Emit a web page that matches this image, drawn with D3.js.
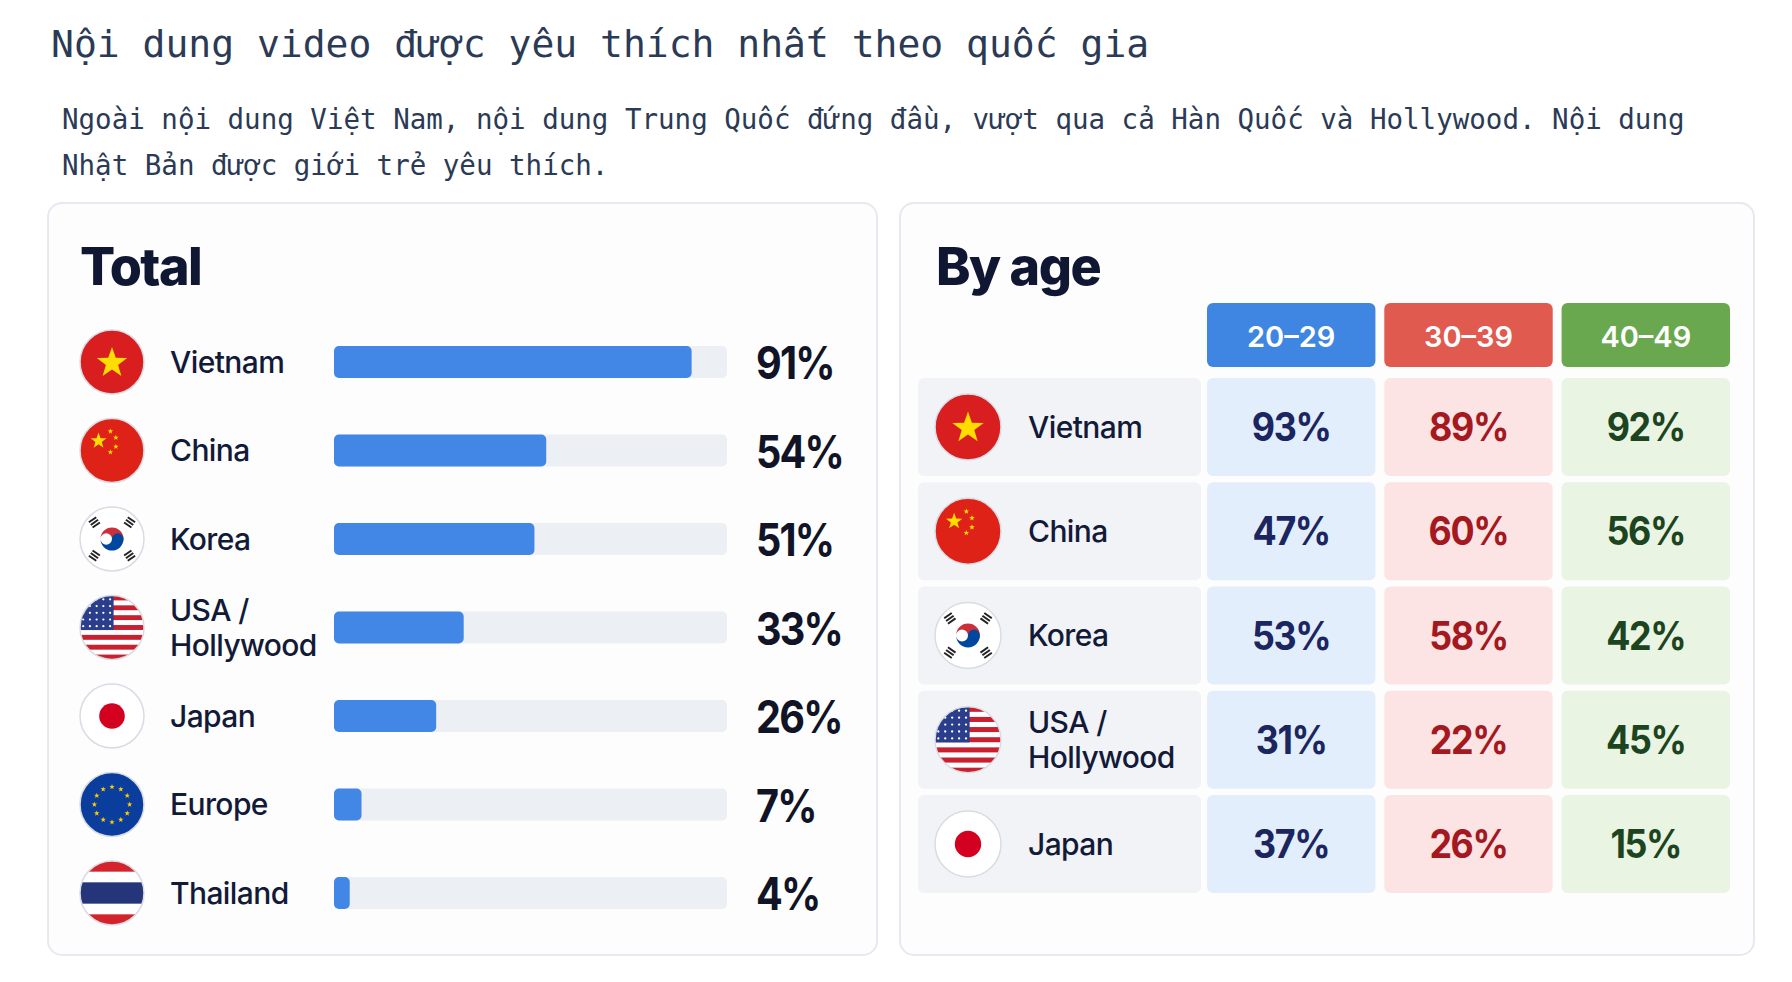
<!DOCTYPE html>
<html><head><meta charset="utf-8">
<script src="https://cdn.jsdelivr.net/npm/d3@7"></script>
<style>body{margin:0;background:#fff}svg{display:block}</style>
</head><body><svg id="chart"></svg>
<script>
const countries = ['Vietnam', 'China', 'Korea', 'USA / Hollywood', 'Japan', 'Europe', 'Thailand']
const totals = [91, 54, 51, 33, 26, 7, 4]
const ageGroups = ['20–29', '30–39', '40–49']
const ageCountries = ['Vietnam', 'China', 'Korea', 'USA / Hollywood', 'Japan']
const age2029 = [93, 47, 53, 31, 37]
const age3039 = [89, 60, 58, 22, 26]
const age4049 = [92, 56, 42, 45, 15]
const byAge = [age2029, age3039, age4049]

const W = 1792, H = 982
const svg = d3.select('#chart').attr('width', W).attr('height', H)
const defs = svg.append('defs')
const sans = 'Inter, Roboto, "Noto Sans", sans-serif'

svg.append('text').attr('x', 51).attr('y', 57).attr('font-family', '"DejaVu Sans Mono", monospace')
  .attr('font-size', 38).attr('fill', '#2b3a55').text('Nội dung video được yêu thích nhất theo quốc gia')
const sub = ['Ngoài nội dung Việt Nam, nội dung Trung Quốc đứng đầu, vượt qua cả Hàn Quốc và Hollywood. Nội dung',
  'Nhật Bản được giới trẻ yêu thích.']
sub.forEach((s, i) => svg.append('text').attr('x', 62).attr('y', 129 + i * 46)
  .attr('font-family', '"DejaVu Sans Mono", monospace').attr('font-size', 27.5).attr('fill', '#2b3a55').text(s))

// cards
;[[48, 877], [900, 1754]].forEach(([x0, x1]) => {
  svg.append('rect').attr('x', x0).attr('y', 203).attr('width', x1 - x0).attr('height', 752)
    .attr('rx', 14).attr('fill', '#fdfdfe').attr('stroke', '#e6e9ef').attr('stroke-width', 2)
})
svg.append('text').attr('x', 80).attr('y', 285).attr('font-family', sans).attr('font-weight', 800)
  .attr('font-size', 52).attr('letter-spacing', -1.5).attr('fill', '#0f1733').text('Total')
svg.append('text').attr('x', 936).attr('y', 285).attr('font-family', sans).attr('font-weight', 800)
  .attr('font-size', 52).attr('letter-spacing', -1.5).attr('fill', '#0f1733').text('By age')

let flagId = 0
function flag(g, name, cx, cy, r) {
  const id = 'fc' + (flagId++)
  defs.append('clipPath').attr('id', id).append('circle').attr('cx', cx).attr('cy', cy).attr('r', r)
  const f = g.append('g').attr('clip-path', `url(#${id})`)
  const star = (x, y, rr, col) => {
    const pts = d3.range(10).map(i => {
      const a = -Math.PI / 2 + i * Math.PI / 5, q = i % 2 ? rr * 0.4 : rr
      return [x + q * Math.cos(a), y + q * Math.sin(a)]
    })
    g.append('polygon').attr('points', pts.join(' ')).attr('fill', col)
  }
  if (name === 'Vietnam') {
    f.append('circle').attr('cx', cx).attr('cy', cy).attr('r', r).attr('fill', '#d81e1e')
    star(cx, cy + 1, r * 0.5, '#ffdd00')
  } else if (name === 'China') {
    f.append('circle').attr('cx', cx).attr('cy', cy).attr('r', r).attr('fill', '#de2218')
    star(cx - r * 0.42, cy - r * 0.3, r * 0.26, '#ffde00')
    ;[[-0.05, -0.6], [0.12, -0.4], [0.12, -0.12], [-0.05, 0.05]].forEach(([dx, dy]) =>
      star(cx + dx * r, cy + dy * r, r * 0.09, '#ffde00'))
  } else if (name === 'Korea') {
    f.append('circle').attr('cx', cx).attr('cy', cy).attr('r', r).attr('fill', '#fff')
    const rr = r * 0.36
    g.append('path').attr('d', `M${cx - rr},${cy} A${rr},${rr} 0 0 1 ${cx + rr},${cy} A${rr / 2},${rr / 2} 0 0 1 ${cx},${cy} A${rr / 2},${rr / 2} 0 0 0 ${cx - rr},${cy}Z`).attr('fill', '#cd2e3a')
    g.append('path').attr('d', `M${cx - rr},${cy} A${rr},${rr} 0 0 0 ${cx + rr},${cy} A${rr / 2},${rr / 2} 0 0 0 ${cx},${cy} A${rr / 2},${rr / 2} 0 0 1 ${cx - rr},${cy}Z`).attr('fill', '#0047a0')
    ;[[-1, -1], [1, -1], [-1, 1], [1, 1]].forEach(([sx, sy]) => {
      const x = cx + sx * r * 0.55, y = cy + sy * r * 0.52
      const gg = g.append('g').attr('transform', `translate(${x},${y}) rotate(${sx * sy * -35})`)
      d3.range(3).forEach(k => gg.append('rect').attr('x', -r * 0.14).attr('y', -r * 0.13 + k * r * 0.1)
        .attr('width', r * 0.28).attr('height', r * 0.06).attr('fill', '#222'))
    })
  } else if (name === 'USA / Hollywood') {
    d3.range(13).forEach(k => f.append('rect').attr('x', cx - r).attr('y', cy - r + k * 2 * r / 13)
      .attr('width', 2 * r).attr('height', 2 * r / 13 + 0.5).attr('fill', k % 2 ? '#fff' : '#c8202f'))
    f.append('rect').attr('x', cx - r).attr('y', cy - r).attr('width', r * 1.05).attr('height', r * 1.08).attr('fill', '#2a3e8c')
    d3.range(5).forEach(i => d3.range(5).forEach(j => f.append('circle')
      .attr('cx', cx - r + 0.1 * r + j * 0.21 * r).attr('cy', cy - r + 0.12 * r + i * 0.21 * r)
      .attr('r', r * 0.035).attr('fill', '#fff')))
  } else if (name === 'Japan') {
    f.append('circle').attr('cx', cx).attr('cy', cy).attr('r', r).attr('fill', '#fff')
    g.append('circle').attr('cx', cx).attr('cy', cy).attr('r', r * 0.4).attr('fill', '#d4001f')
  } else if (name === 'Europe') {
    f.append('circle').attr('cx', cx).attr('cy', cy).attr('r', r).attr('fill', '#0a3d9c')
    d3.range(12).forEach(k => {
      const a = k * Math.PI / 6
      star(cx + r * 0.55 * Math.cos(a), cy + r * 0.55 * Math.sin(a), r * 0.09, '#ffcc00')
    })
  } else if (name === 'Thailand') {
    const bands = [['#d3242c', 1], ['#fff', 1], ['#24357a', 2], ['#fff', 1], ['#d3242c', 1]]
    let y = cy - r
    bands.forEach(([c, n]) => {
      f.append('rect').attr('x', cx - r).attr('y', y).attr('width', 2 * r).attr('height', n * r / 3 + 0.5).attr('fill', c)
      y += n * r / 3
    })
  }
  g.append('circle').attr('cx', cx).attr('cy', cy).attr('r', r).attr('fill', 'none')
    .attr('stroke', '#d9dce3').attr('stroke-width', 1.5)
}

function label(g, name, x, y, size) {
  const parts = name.includes('/') ? ['USA /', 'Hollywood'] : [name]
  const t = g.append('text').attr('x', x).attr('font-family', sans).attr('font-weight', 500)
    .attr('font-size', size).attr('letter-spacing', -0.6).attr('fill', '#121a38')
  parts.forEach((p, i) => t.append('tspan').attr('x', x)
    .attr('y', y + size * 0.36 + (i - (parts.length - 1) / 2) * size * 1.15).text(p))
}

// Total panel
const yT = d3.scalePoint().domain(countries).range([362, 893])
const xT = d3.scaleLinear().domain([0, 100]).range([334, 727])
const left = svg.append('g')
countries.forEach((c, i) => {
  const y = yT(c)
  flag(left, c, 112, y, 32)
  label(left, c, 170, y, 30)
  left.append('rect').attr('x', xT(0)).attr('y', y - 16).attr('width', xT(100) - xT(0)).attr('height', 32)
    .attr('rx', 5).attr('fill', '#eceff4')
  left.append('rect').attr('x', xT(0)).attr('y', y - 16).attr('width', xT(totals[i]) - xT(0)).attr('height', 32)
    .attr('rx', 5).attr('fill', '#4286e6')
  left.append('text').attr('transform', `translate(756,${y + 17}) scale(0.88,1)`).attr('font-family', sans)
    .attr('font-weight', 700).attr('font-size', 45).attr('letter-spacing', -2).attr('fill', '#101426').text(totals[i] + '%')
})

// By age panel
const headColors = ['#3e86e2', '#e05a50', '#6aa84f']
const cellColors = ['#e3eefc', '#fce4e4', '#e9f4e2']
const textColors = ['#1b2660', '#a3191f', '#1d4420']
const xA = d3.scaleBand().domain(ageGroups).range([1207, 1730]).paddingInner(0.05).paddingOuter(0)
const yA = d3.scaleBand().domain(ageCountries).range([378, 893]).paddingInner(0.06)
const right = svg.append('g')
ageGroups.forEach((a, j) => {
  right.append('rect').attr('x', xA(a)).attr('y', 303).attr('width', xA.bandwidth()).attr('height', 64)
    .attr('rx', 6).attr('fill', headColors[j])
  right.append('text').attr('x', xA(a) + xA.bandwidth() / 2).attr('y', 347).attr('text-anchor', 'middle')
    .attr('font-family', sans).attr('font-weight', 600).attr('font-size', 29).attr('fill', '#fff').text(a)
})
ageCountries.forEach((c, i) => {
  const y = yA(c), h = yA.bandwidth(), cy = y + h / 2
  right.append('rect').attr('x', 918).attr('y', y).attr('width', 1201 - 918).attr('height', h)
    .attr('rx', 6).attr('fill', '#f1f3f7')
  flag(right, c, 968, cy, 33)
  label(right, c, 1028, cy, 30)
  ageGroups.forEach((a, j) => {
    right.append('rect').attr('x', xA(a)).attr('y', y).attr('width', xA.bandwidth()).attr('height', h)
      .attr('rx', 6).attr('fill', cellColors[j])
    right.append('text').attr('transform', `translate(${xA(a) + xA.bandwidth() / 2},${cy + 14}) scale(0.92,1)`)
      .attr('text-anchor', 'middle')
      .attr('font-family', sans).attr('font-weight', 700).attr('font-size', 39).attr('letter-spacing', -1.5)
      .attr('fill', textColors[j]).text(byAge[j][i] + '%')
  })
})
</script></body></html>
